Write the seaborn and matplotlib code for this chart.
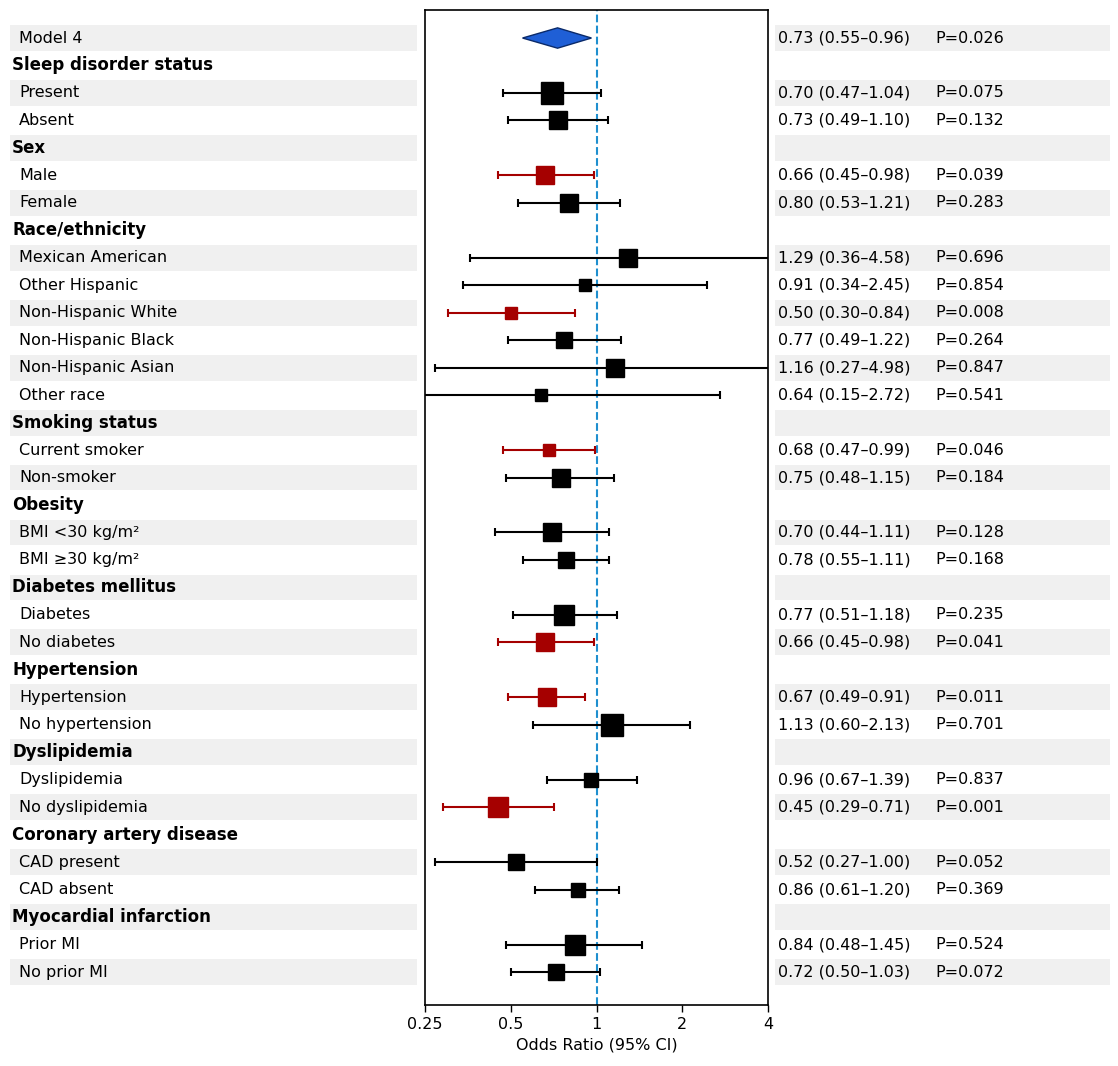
import matplotlib
matplotlib.use("Agg")
import matplotlib.pyplot as plt
import seaborn as sns
import numpy as np

sns.set_style("white")
plt.rcParams['font.family'] = ['DejaVu Sans']
plt.rcParams['text.color'] = 'black'
plt.rcParams['axes.labelcolor'] = 'black'
plt.rcParams['xtick.color'] = 'black'

labels = ["Model 4", "Sleep disorder status", "Present", "Absent", "Sex", "Male", "Female",
          "Race/ethnicity", "Mexican American", "Other Hispanic", "Non-Hispanic White",
          "Non-Hispanic Black", "Non-Hispanic Asian", "Other race", "Smoking status",
          "Current smoker", "Non-smoker", "Obesity", "BMI <30 kg/m²", "BMI ≥30 kg/m²",
          "Diabetes mellitus", "Diabetes", "No diabetes", "Hypertension", "Hypertension",
          "No hypertension", "Dyslipidemia", "Dyslipidemia", "No dyslipidemia",
          "Coronary artery disease", "CAD present", "CAD absent", "Myocardial infarction",
          "Prior MI", "No prior MI"]
is_header = [False, True, False, False, True, False, False, True, False, False, False, False,
             False, False, True, False, False, True, False, False, True, False, False, True,
             False, False, True, False, False, True, False, False, True, False, False]
odds = [0.73, None, 0.70, 0.73, None, 0.66, 0.80, None, 1.29, 0.91, 0.50, 0.77, 1.16, 0.64,
        None, 0.68, 0.75, None, 0.70, 0.78, None, 0.77, 0.66, None, 0.67, 1.13, None, 0.96,
        0.45, None, 0.52, 0.86, None, 0.84, 0.72]
lower = [0.55, None, 0.47, 0.49, None, 0.45, 0.53, None, 0.36, 0.34, 0.30, 0.49, 0.27, 0.15,
         None, 0.47, 0.48, None, 0.44, 0.55, None, 0.51, 0.45, None, 0.49, 0.60, None, 0.67,
         0.29, None, 0.27, 0.61, None, 0.48, 0.50]
upper = [0.96, None, 1.04, 1.10, None, 0.98, 1.21, None, 4.58, 2.45, 0.84, 1.22, 4.98, 2.72,
         None, 0.99, 1.15, None, 1.11, 1.11, None, 1.18, 0.98, None, 0.91, 2.13, None, 1.39,
         0.71, None, 1.00, 1.20, None, 1.45, 1.03]
pvals = ["0.026", None, "0.075", "0.132", None, "0.039", "0.283", None, "0.696", "0.854",
         "0.008", "0.264", "0.847", "0.541", None, "0.046", "0.184", None, "0.128", "0.168",
         None, "0.235", "0.041", None, "0.011", "0.701", None, "0.837", "0.001", None,
         "0.052", "0.369", None, "0.524", "0.072"]
# marker side, pixels (study weight)
weights = [0, 0, 22, 18, 0, 18, 18, 0, 18, 12, 12, 16, 18, 12, 0, 12, 18, 0, 18, 16, 0, 20,
           18, 0, 18, 22, 0, 14, 20, 0, 16, 14, 0, 20, 16]

n = len(labels)
W, H = 1118, 1066
fig = plt.figure(figsize=(W / 100, H / 100), dpi=100)
bot, top = 1 - 1005 / H, 1 - 10 / H
ax_l = fig.add_axes([10 / W, bot, 407 / W, top - bot])
ax = fig.add_axes([425 / W, bot, 343 / W, top - bot])
ax_r = fig.add_axes([775 / W, bot, 335 / W, top - bot])
ylim = (35.2, -1.02)

for a in (ax_l, ax_r):
    a.set_xlim(0, 1)
    a.set_ylim(*ylim)
    a.axis("off")
    for i in range(0, n, 2):
        a.axhspan(i - 0.47, i + 0.47, color="#f0f0f0", lw=0, zorder=0)

for i in range(n):
    if is_header[i]:
        ax_l.text(0.005, i, labels[i], fontsize=12, fontweight="bold", va="center")
    else:
        ax_l.text(0.022, i, labels[i], fontsize=11.5, va="center")
    if odds[i] is not None:
        ax_r.text(0.008, i, f"{odds[i]:.2f} ({lower[i]:.2f}–{upper[i]:.2f})", fontsize=11.5, va="center")
        ax_r.text(0.48, i, f"P={pvals[i]}", fontsize=11.5, va="center")

ax.set_xscale("log", base=2)
ax.set_xlim(0.25, 4)
ax.set_ylim(*ylim)
ax.axvline(1, color="#1f8fcf", ls="--", lw=1.5, zorder=1)

for i in range(1, n):
    if odds[i] is None:
        continue
    c = "#a50000" if upper[i] < 1 else "black"
    ax.errorbar(odds[i], i, xerr=[[odds[i] - lower[i]], [upper[i] - odds[i]]], fmt="s",
                color=c, ecolor=c, elinewidth=1.5, capsize=3, capthick=1.5,
                markersize=weights[i] * 0.72, zorder=3)

dx = [lower[0], odds[0], upper[0], odds[0]]
dy = [0, -0.37, 0, 0.37]
ax.fill(dx, dy, color="#1f5fd6", ec="#0a2a6a", lw=1, zorder=3)

ax.set_yticks([])
ax.set_xticks([0.25, 0.5, 1, 2, 4])
ax.set_xticklabels(["0.25", "0.5", "1", "2", "4"], fontsize=11.5)
ax.minorticks_off()
ax.tick_params(axis="x", length=5, width=1, bottom=True)
ax.set_xlabel("Odds Ratio (95% CI)", fontsize=11.5)
for s in ax.spines.values():
    s.set_color("black")
    s.set_linewidth(1.2)

fig.savefig("out.png", dpi=100)
